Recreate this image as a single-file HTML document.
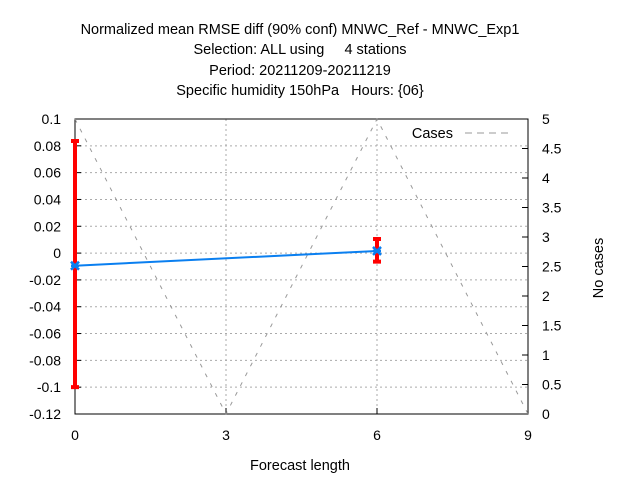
<!DOCTYPE html>
<html><head><meta charset="utf-8"><style>
body{margin:0;background:#fff}
svg{display:block;font-family:"Liberation Sans",sans-serif}
text{white-space:pre}
</style></head><body>
<svg id="c" width="640" height="480">
<g id="titles" font-size="14.5" text-anchor="middle" fill="#000">
<text x="300" y="34">Normalized mean RMSE diff (90% conf) MNWC_Ref - MNWC_Exp1</text>
<text x="300" y="54">Selection: ALL using     4 stations</text>
<text x="300" y="75">Period: 20211209-20211219</text>
<text x="300" y="95">Specific humidity 150hPa   Hours: {06}</text>
</g>
<g id="grid"></g><g id="axes"></g><g id="series"></g>
<text x="300" y="470" font-size="14.5" text-anchor="middle">Forecast length</text>
<text transform="translate(603,268) rotate(-90)" font-size="14.5" text-anchor="middle">No cases</text>
<g>
<text x="453" y="138" font-size="14.5" text-anchor="end">Cases</text>
<line x1="465" y1="133" x2="510" y2="133" stroke="#999" stroke-dasharray="7,5"/>
</g>
</svg>
<script>
const xTicks=[0,3,6,9];
const yTicks=[-0.12,-0.1,-0.08,-0.06,-0.04,-0.02,0,0.02,0.04,0.06,0.08,0.1];
const y2Ticks=[0,0.5,1,1.5,2,2.5,3,3.5,4,4.5,5];
const leads=[0,6];
const diffVals=[-0.0094,0.0016];
const errLow=[-0.1,-0.0064];
const errHigh=[0.0836,0.0105];
const caseLeads=[0,3,6,9];
const caseVals=[5,0,5,0];
const L=75,R=528,T=119,B=414;
const X=v=>L+(v-0)/9*(R-L);
const Y=v=>B-(v+0.12)/0.22*(B-T);
const Y2=v=>B-v/5*(B-T);
const NS="http://www.w3.org/2000/svg";
function mk(p,tag,a){const e=document.createElementNS(NS,tag);for(const k in a)e.setAttribute(k,a[k]);document.getElementById(p).appendChild(e);return e;}
yTicks.forEach(v=>{
 const y=Y(v);
 if(v>-0.119&&v<0.099){const g=mk('grid','line',{x1:L,x2:R,y1:y,y2:y,stroke:'#aaa','stroke-dasharray':'2,3'});
 
 }
 const t=mk('axes','line',{x1:L,x2:L+6,y1:y,y2:y,stroke:'#000'});
 
 
 const l=mk('axes','text',{x:L-14,y:y+5,'font-size':'14','text-anchor':'end'});l.textContent=String(+v.toFixed(2));
 
 
});
xTicks.forEach(v=>{
 const x=X(v);
 if(v>0&&v<9){const g=mk('grid','line',{x1:x,x2:x,y1:T,y2:B,stroke:'#aaa','stroke-dasharray':'2,3'});
 
 }
 const t=mk('axes','line',{x1:x,x2:x,y1:B,y2:B-6,stroke:'#000'});
 
 
 const l=mk('axes','text',{x:x,y:B+26,'font-size':'14','text-anchor':'middle'});l.textContent=v;
 
 
});
y2Ticks.forEach(v=>{
 const y=Y2(v);
 const t=mk('axes','line',{x1:R-6,x2:R,y1:y,y2:y,stroke:'#000'});
 
 
 const l=mk('axes','text',{x:R+14,y:y+5,'font-size':'14'});l.textContent=v;
 
 
});
const fr=mk('axes','rect',{x:L,y:T,width:R-L,height:B-T,fill:'none',stroke:'#000'});


const cl=mk('series','polyline',{points:caseLeads.map((d,i)=>X(d)+','+Y2(caseVals[i])).join(' '),fill:'none',stroke:'#999','stroke-dasharray':'4,7'});


leads.forEach((d,i)=>{
 const x=X(d),y1=Y(errLow[i]),y2=Y(errHigh[i]);
 const e=mk('series','path',{d:`M${x},${y1}V${y2}M${x-4},${y1}H${x+4}M${x-4},${y2}H${x+4}`,stroke:'#f00','stroke-width':4,fill:'none'});
 
 
});
const dl=mk('series','polyline',{points:leads.map((d,i)=>X(d)+','+Y(diffVals[i])).join(' '),fill:'none',stroke:'#0a7ff0','stroke-width':2});


leads.forEach((d,i)=>{
 const x=X(d),y=Y(diffVals[i]);
 const p=mk('series','path',{d:`M${x-4},${y-4}L${x+4},${y+4}M${x-4},${y+4}L${x+4},${y-4}M${x-4},${y}H${x+4}`,stroke:'#0a7ff0','stroke-width':2.5});
 
 
});
</script>
</body></html>
